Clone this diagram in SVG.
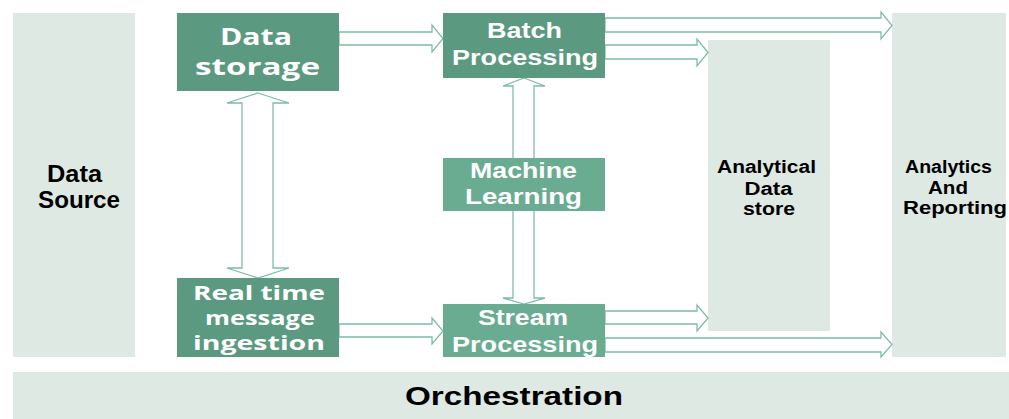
<svg xmlns="http://www.w3.org/2000/svg" width="1009" height="419" viewBox="0 0 1009 419">
<style>
.bg{fill:#dfe9e4}
.dk{fill:#5b9a80}
.lt{fill:#6aac91}
.arr{fill:#ffffff;stroke:#7dbda4;stroke-width:1.3;stroke-linejoin:miter}
.w{fill:#ffffff;font-weight:bold;text-anchor:middle}
.os{font-family:"Open Sans","Liberation Sans",sans-serif}
.ar{font-family:"Liberation Sans",Arial,sans-serif}
.b{fill:#000000;font-weight:bold;text-anchor:middle;font-family:"Liberation Sans",Arial,sans-serif}
</style>
<rect width="1009" height="419" fill="#ffffff"/>
<g id="data-source">
<rect class="bg" x="13" y="13" width="122" height="344"/>
<text class="b" font-size="24" x="74.5" y="182" textLength="55" lengthAdjust="spacingAndGlyphs">Data</text>
<text class="b" font-size="24" x="79" y="208" textLength="82" lengthAdjust="spacingAndGlyphs">Source</text>
</g>
<g id="analytical-data-store">
<rect class="bg" x="708" y="40" width="122" height="291"/>
<text class="b" font-size="18" x="766.5" y="173" textLength="99" lengthAdjust="spacingAndGlyphs">Analytical</text>
<text class="b" font-size="18" x="768.5" y="195" textLength="48" lengthAdjust="spacingAndGlyphs">Data</text>
<text class="b" font-size="18" x="769" y="215" textLength="52" lengthAdjust="spacingAndGlyphs">store</text>
</g>
<g id="analytics-reporting">
<rect class="bg" x="892" y="13" width="114" height="344"/>
<text class="b" font-size="18" x="948.5" y="173" textLength="87" lengthAdjust="spacingAndGlyphs">Analytics</text>
<text class="b" font-size="18" x="948" y="194" textLength="40" lengthAdjust="spacingAndGlyphs">And</text>
<text class="b" font-size="18" x="955" y="214" textLength="104" lengthAdjust="spacingAndGlyphs">Reporting</text>
</g>
<g id="orchestration">
<rect class="bg" x="13" y="372" width="996" height="47"/>
<text class="b" font-size="25" x="514" y="405" textLength="218" lengthAdjust="spacingAndGlyphs">Orchestration</text>
</g>
<g id="connectors">
<polygon class="arr" points="339,32 432,32 432,25 443,38.5 432,52 432,45 339,45"/>
<polygon class="arr" points="339,324 432,324 432,318 443,331 432,344 432,337 339,337"/>
<polygon class="arr" points="605,18 881,18 881,12 892,25.5 881,39 881,32 605,32"/>
<polygon class="arr" points="605,45 697,45 697,39 708,52.5 697,66 697,59 605,59"/>
<polygon class="arr" points="605,311 697,311 697,305 708,318 697,331 697,324 605,324"/>
<polygon class="arr" points="605,338 881,338 881,332 892,344.5 881,357 881,352 605,352"/>
<polygon class="arr" points="258,93 289,103 273,103 273,268 289,268 258,278 227,268 242,268 242,103 227,103"/>
<polygon class="arr" points="524,78 545,86 534,86 534,298 545,298 524,304 503,298 513,298 513,86 503,86"/>
</g>
<g id="data-storage">
<rect class="dk" x="177" y="13" width="162" height="78"/>
<text class="w os" font-size="24" x="256" y="45" textLength="72" lengthAdjust="spacingAndGlyphs">Data</text>
<text class="w os" font-size="24" x="257.5" y="75" textLength="125" lengthAdjust="spacingAndGlyphs">storage</text>
</g>
<g id="real-time-ingestion">
<rect class="dk" x="177" y="278" width="162" height="79"/>
<text class="w os" font-size="20" x="259" y="300" textLength="132" lengthAdjust="spacingAndGlyphs">Real time</text>
<text class="w os" font-size="20" x="260" y="325" textLength="110" lengthAdjust="spacingAndGlyphs">message</text>
<text class="w os" font-size="20" x="259" y="350" textLength="132" lengthAdjust="spacingAndGlyphs">ingestion</text>
</g>
<g id="batch-processing">
<rect class="dk" x="443" y="13" width="162" height="65"/>
<text class="w ar" font-size="22" x="524.5" y="38" textLength="75" lengthAdjust="spacingAndGlyphs">Batch</text>
<text class="w ar" font-size="22" x="525" y="65" textLength="146" lengthAdjust="spacingAndGlyphs">Processing</text>
</g>
<g id="machine-learning">
<rect class="lt" x="443" y="158" width="162" height="53"/>
<text class="w ar" font-size="22" x="523.5" y="178" textLength="107" lengthAdjust="spacingAndGlyphs">Machine</text>
<text class="w ar" font-size="22" x="523.5" y="204" textLength="117" lengthAdjust="spacingAndGlyphs">Learning</text>
</g>
<g id="stream-processing">
<rect class="lt" x="443" y="304" width="162" height="53"/>
<text class="w ar" font-size="22" x="523" y="325" textLength="90" lengthAdjust="spacingAndGlyphs">Stream</text>
<text class="w ar" font-size="22" x="525" y="352" textLength="146" lengthAdjust="spacingAndGlyphs">Processing</text>
</g>
</svg>
